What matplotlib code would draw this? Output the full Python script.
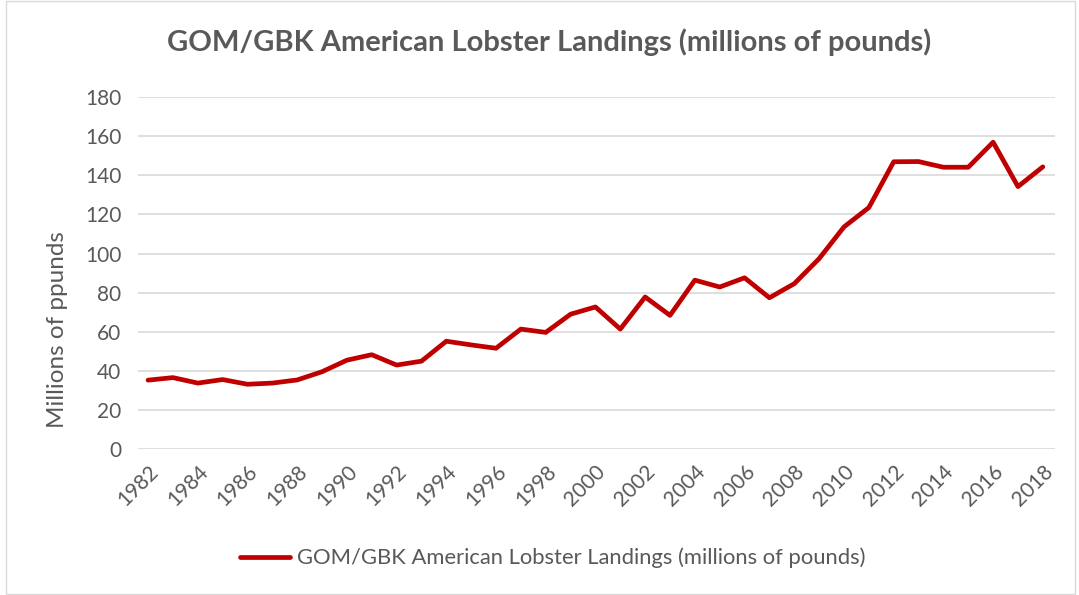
import matplotlib.pyplot as plt
from matplotlib.patches import Rectangle

plt.rcParams['font.family'] = ['Lato', 'DejaVu Sans']

# Landings by year, millions of pounds
years = list(range(1982, 2019))
landings = [35.3, 36.6, 33.8, 35.6, 33.2, 33.8, 35.4, 39.6, 45.5, 48.3,
            43.0, 45.0, 55.2, 53.3, 51.6, 61.4, 59.7, 69.0, 72.7, 61.4,
            77.8, 68.4, 86.4, 82.9, 87.6, 77.4, 84.6, 97.4, 113.6, 123.5,
            146.9, 147.0, 144.1, 144.1, 156.9, 134.2, 144.3]

series_name = 'GOM/GBK American Lobster Landings (millions of pounds)'
text_color = '#595959'
line_color = '#C00000'

fig = plt.figure(figsize=(10.79, 5.95), dpi=100)
ax = fig.add_axes([0.128, 0.245, 0.85, 0.592])

ax.plot(years, landings, color=line_color, linewidth=3.4,
        solid_joinstyle='round', solid_capstyle='round', label=series_name)

ax.set_xlim(1981.6, 2018.5)
ax.set_ylim(0, 180)
ax.set_yticks(range(0, 181, 20))
ax.set_xticks(years[::2])
ax.set_xticklabels([str(y) for y in years[::2]], rotation=45,
                   ha='right', rotation_mode='anchor')
ax.tick_params(axis='both', length=0, labelsize=15, colors=text_color)
ax.tick_params(axis='x', pad=9)
ax.tick_params(axis='y', pad=12)

ax.grid(axis='y', color='#D9D9D9', linewidth=1.2)
ax.set_axisbelow(True)
for side in ['top', 'right', 'left', 'bottom']:
    ax.spines[side].set_visible(False)

ax.set_ylabel('Millions of ppunds', fontsize=17.5, color=text_color)
ax.yaxis.set_label_coords(-0.076, 0.34)
fig.suptitle('GOM/GBK American Lobster Landings (millions of pounds)',
             x=0.509, y=0.952, fontsize=21, fontweight='bold', color=text_color)

fig.legend(loc='center', bbox_to_anchor=(0.512, 0.062), frameon=False,
           fontsize=15.8, labelcolor=text_color, handlelength=2.3,
           handletextpad=0.3)

# light chart border
fig.add_artist(Rectangle((0.006, 0.002), 0.99, 0.996, transform=fig.transFigure,
                         fill=False, edgecolor='#D9D9D9', linewidth=1))

fig.savefig('out.png', dpi=100)
